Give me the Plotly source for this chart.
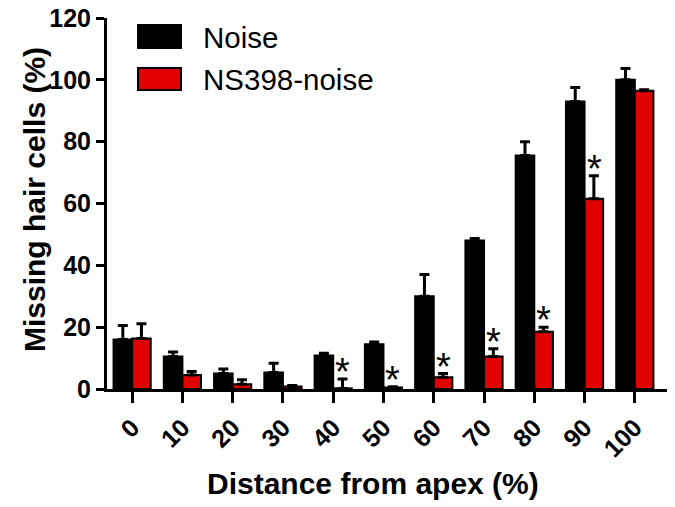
import plotly.graph_objects as go

categories = ["0", "10", "20", "30", "40", "50", "60", "70", "80", "90", "100"]
noise = [16, 10.5, 5, 5.3, 10.8, 14.5, 30, 48, 75.5, 93, 100]
noise_err = [4.5, 1.5, 1.5, 3, 0.8, 0.7, 7, 0.7, 4.5, 4.5, 3.7]
ns398 = [16.3, 4.5, 1.5, 0.8, 0.2, 0.5, 3.8, 10.5, 18.5, 61.5, 96.5]
ns398_err = [4.8, 1.2, 1.5, 0.3, 3, 0.2, 1.2, 2.5, 1.5, 7.5, 0.3]
significant = [False, False, False, False, True, True, True, True, True, True, False]
y_ticks = [0, 20, 40, 60, 80, 100, 120]

RED = "#E00000"
FONT = "Liberation Sans, Arial, sans-serif"

# page body margin is removed below, so the figure fills the window
W, H = 675, 507
# plot area in page pixels: x 107..667, y 18..389
ML, MT = 107, 18
MR = W - 667
MB = H - 389
PW, PH = W - ML - MR, H - MT - MB

fig = go.Figure()
fig.add_trace(go.Bar(
    x=categories, y=noise, name="Noise",
    marker=dict(color="black", line=dict(color="black", width=2)),
    error_y=dict(type="data", array=noise_err, arrayminus=[0]*len(noise_err),
                 symmetric=False, color="black", thickness=3, width=5),
))
fig.add_trace(go.Bar(
    x=categories, y=ns398, name="NS398-noise",
    marker=dict(color=RED, line=dict(color="black", width=2)),
    error_y=dict(type="data", array=ns398_err, arrayminus=[0]*len(ns398_err),
                 symmetric=False, color="black", thickness=3, width=5),
))

annotations = []
for i, (v, e, s) in enumerate(zip(ns398, ns398_err, significant)):
    if s:
        annotations.append(dict(
            x=i, y=v + e, xref="x", yref="y", text="*", showarrow=False,
            xshift=9.5, yshift=7, xanchor="center", yanchor="middle",
            font=dict(family=FONT, size=38, color="black"),
        ))

def px2paper(x, y):
    return (x - ML) / PW, 1 - (y - MT) / PH

def paper_ann(x, y, text, size, xanchor="center", angle=0, bold=False):
    px, py = px2paper(x, y)
    return dict(x=px, y=py, xref="paper", yref="paper", text=text, showarrow=False,
                xanchor=xanchor, yanchor="middle", textangle=angle,
                font=dict(family=FONT, size=size, color="black",
                          weight="bold" if bold else "normal"))

annotations.append(paper_ann(373, 484, "Distance from apex (%)", 30, bold=True))
annotations.append(paper_ann(34, 200, "Missing hair cells (%)", 30, angle=-90, bold=True))
annotations.append(paper_ann(201, 37, "Noise", 29.5, xanchor="left"))
annotations.append(paper_ann(201, 79, "NS398-noise", 29.5, xanchor="left"))

shapes = []
for (x0, y0, x1, y1, col) in [(138, 25, 181, 48, "black"), (138, 68, 181, 90, RED)]:
    px0, py0 = px2paper(x0, y0)
    px1, py1 = px2paper(x1, y1)
    shapes.append(dict(type="rect", xref="paper", yref="paper",
                       x0=px0, x1=px1, y0=py1, y1=py0,
                       fillcolor=col, line=dict(color="black", width=2)))

fig.update_layout(
    width=W, height=H,
    margin=dict(l=ML, r=MR, t=MT, b=MB, autoexpand=False),
    plot_bgcolor="white", paper_bgcolor="white",
    barmode="group", bargap=0.26, bargroupgap=0,
    showlegend=False,
    annotations=annotations,
    shapes=shapes,
    font=dict(family=FONT, color="black"),
)
fig.update_xaxes(
    type="category", range=[-0.5, 10.64],
    showline=True, linecolor="black", linewidth=3,
    ticks="outside", ticklen=11, tickwidth=3, tickcolor="black",
    tickangle=-45, tickfont=dict(family=FONT, size=25, color="black", weight="bold"),
    showgrid=False, zeroline=False, automargin=False,
)
fig.update_yaxes(
    range=[0, 120], tickvals=y_ticks,
    showline=True, linecolor="black", linewidth=3,
    ticks="outside", ticklen=8, tickwidth=3, tickcolor="black",
    tickfont=dict(family=FONT, size=25, color="black", weight="bold"),
    ticklabeloverflow="allow",
    showgrid=False, zeroline=False, automargin=False,
)

fig.write_html("out.html", config={"displayModeBar": False},
               post_script="document.body.style.margin='0';")
